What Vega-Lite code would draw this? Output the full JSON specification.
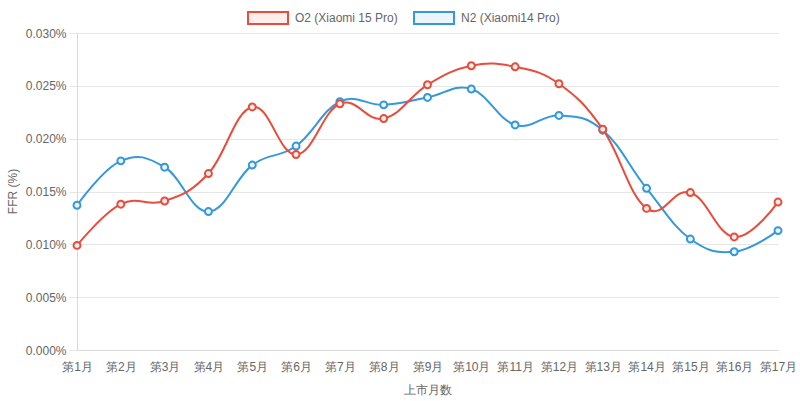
{
  "$schema": "https://vega.github.io/schema/vega-lite/v6.json",
  "width": 701,
  "height": 317,
  "autosize": {"type": "none"},
  "padding": {"left": 77, "top": 33, "right": 22, "bottom": 51},
  "config": {
    "font": "Liberation Sans",
    "view": {"stroke": null},
    "axis": {
      "labelFont": "Liberation Sans",
      "labelFontSize": 12,
      "labelColor": "#666666",
      "titleFont": "Liberation Sans",
      "titleFontSize": 12,
      "titleFontWeight": "normal",
      "titleColor": "#666666",
      "gridColor": "#e6e6e6",
      "domainColor": "#d9d9d9",
      "tickColor": "#e6e6e6"
    }
  },
  "data": {
    "values": [
      {"month": "第1月", "series": "N2 (Xiaomi14 Pro)", "ffr": 0.0137},
      {"month": "第2月", "series": "N2 (Xiaomi14 Pro)", "ffr": 0.0179},
      {"month": "第3月", "series": "N2 (Xiaomi14 Pro)", "ffr": 0.0173},
      {"month": "第4月", "series": "N2 (Xiaomi14 Pro)", "ffr": 0.0131},
      {"month": "第5月", "series": "N2 (Xiaomi14 Pro)", "ffr": 0.0175},
      {"month": "第6月", "series": "N2 (Xiaomi14 Pro)", "ffr": 0.0193},
      {"month": "第7月", "series": "N2 (Xiaomi14 Pro)", "ffr": 0.0235},
      {"month": "第8月", "series": "N2 (Xiaomi14 Pro)", "ffr": 0.0232},
      {"month": "第9月", "series": "N2 (Xiaomi14 Pro)", "ffr": 0.0239},
      {"month": "第10月", "series": "N2 (Xiaomi14 Pro)", "ffr": 0.0247},
      {"month": "第11月", "series": "N2 (Xiaomi14 Pro)", "ffr": 0.0213},
      {"month": "第12月", "series": "N2 (Xiaomi14 Pro)", "ffr": 0.0222},
      {"month": "第13月", "series": "N2 (Xiaomi14 Pro)", "ffr": 0.0208},
      {"month": "第14月", "series": "N2 (Xiaomi14 Pro)", "ffr": 0.0153},
      {"month": "第15月", "series": "N2 (Xiaomi14 Pro)", "ffr": 0.0105},
      {"month": "第16月", "series": "N2 (Xiaomi14 Pro)", "ffr": 0.0093},
      {"month": "第17月", "series": "N2 (Xiaomi14 Pro)", "ffr": 0.0113},
      {"month": "第1月", "series": "O2 (Xiaomi 15 Pro)", "ffr": 0.0099},
      {"month": "第2月", "series": "O2 (Xiaomi 15 Pro)", "ffr": 0.0138},
      {"month": "第3月", "series": "O2 (Xiaomi 15 Pro)", "ffr": 0.0141},
      {"month": "第4月", "series": "O2 (Xiaomi 15 Pro)", "ffr": 0.0167},
      {"month": "第5月", "series": "O2 (Xiaomi 15 Pro)", "ffr": 0.0230},
      {"month": "第6月", "series": "O2 (Xiaomi 15 Pro)", "ffr": 0.0185},
      {"month": "第7月", "series": "O2 (Xiaomi 15 Pro)", "ffr": 0.0233},
      {"month": "第8月", "series": "O2 (Xiaomi 15 Pro)", "ffr": 0.0219},
      {"month": "第9月", "series": "O2 (Xiaomi 15 Pro)", "ffr": 0.0251},
      {"month": "第10月", "series": "O2 (Xiaomi 15 Pro)", "ffr": 0.0269},
      {"month": "第11月", "series": "O2 (Xiaomi 15 Pro)", "ffr": 0.0268},
      {"month": "第12月", "series": "O2 (Xiaomi 15 Pro)", "ffr": 0.0252},
      {"month": "第13月", "series": "O2 (Xiaomi 15 Pro)", "ffr": 0.0209},
      {"month": "第14月", "series": "O2 (Xiaomi 15 Pro)", "ffr": 0.0134},
      {"month": "第15月", "series": "O2 (Xiaomi 15 Pro)", "ffr": 0.0149},
      {"month": "第16月", "series": "O2 (Xiaomi 15 Pro)", "ffr": 0.0107},
      {"month": "第17月", "series": "O2 (Xiaomi 15 Pro)", "ffr": 0.0140}
    ]
  },
  "encoding": {
    "x": {
      "field": "month",
      "type": "ordinal",
      "sort": null,
      "scale": {"type": "point", "padding": 0},
      "axis": {
        "title": "上市月数",
        "labelAngle": 0,
        "labelOverlap": false,
        "ticks": false,
        "labelPadding": 11,
        "grid": false,
        "titleY": 39,
        "titleBaseline": "middle"
      }
    },
    "y": {
      "field": "ffr",
      "type": "quantitative",
      "scale": {"domain": [0, 0.03], "nice": false},
      "axis": {
        "title": "FFR (%)",
        "values": [0, 0.005, 0.01, 0.015, 0.02, 0.025, 0.03],
        "labelExpr": "format(datum.value, '.3f') + '%'",
        "tickSize": 8,
        "labelPadding": 3,
        "titleX": -65,
        "titleY": 158,
        "titleAngle": -90,
        "titleAlign": "center",
        "titleBaseline": "middle"
      }
    },
    "stroke": {
      "field": "series",
      "type": "nominal",
      "scale": {
        "domain": ["O2 (Xiaomi 15 Pro)", "N2 (Xiaomi14 Pro)"],
        "range": ["#e74c3c", "#3498db"]
      },
      "legend": {
        "title": null,
        "orient": "none",
        "direction": "horizontal",
        "legendX": 170,
        "legendY": -36,
        "padding": 0,
        "symbolType": "M-1,-0.3L1,-0.3L1,0.3L-1,0.3Z",
        "symbolSize": 1600,
        "symbolStrokeWidth": 2,
        "labelOffset": 6,
        "columnPadding": 12,
        "labelFontSize": 12,
        "labelColor": "#666666",
        "labelFont": "Liberation Sans"
      }
    }
  },
  "layer": [
    {
      "mark": {"type": "line", "interpolate": "cardinal", "tension": -0.2, "strokeWidth": 2}
    },
    {
      "mark": {"type": "point", "filled": false, "size": 48, "strokeWidth": 2, "opacity": 1},
      "encoding": {
        "fill": {
          "field": "series",
          "type": "nominal",
          "scale": {
            "domain": ["O2 (Xiaomi 15 Pro)", "N2 (Xiaomi14 Pro)"],
            "range": ["#fdedeb", "#ebf5fb"]
          },
          "legend": {
            "title": null,
            "orient": "none",
            "direction": "horizontal",
            "legendX": 170,
            "legendY": -36,
            "padding": 0,
            "symbolType": "M-1,-0.3L1,-0.3L1,0.3L-1,0.3Z",
            "symbolSize": 1600,
            "symbolStrokeWidth": 2,
            "labelOffset": 6,
            "columnPadding": 12,
            "labelFontSize": 12,
            "labelColor": "#666666",
            "labelFont": "Liberation Sans"
          }
        }
      }
    }
  ]
}
